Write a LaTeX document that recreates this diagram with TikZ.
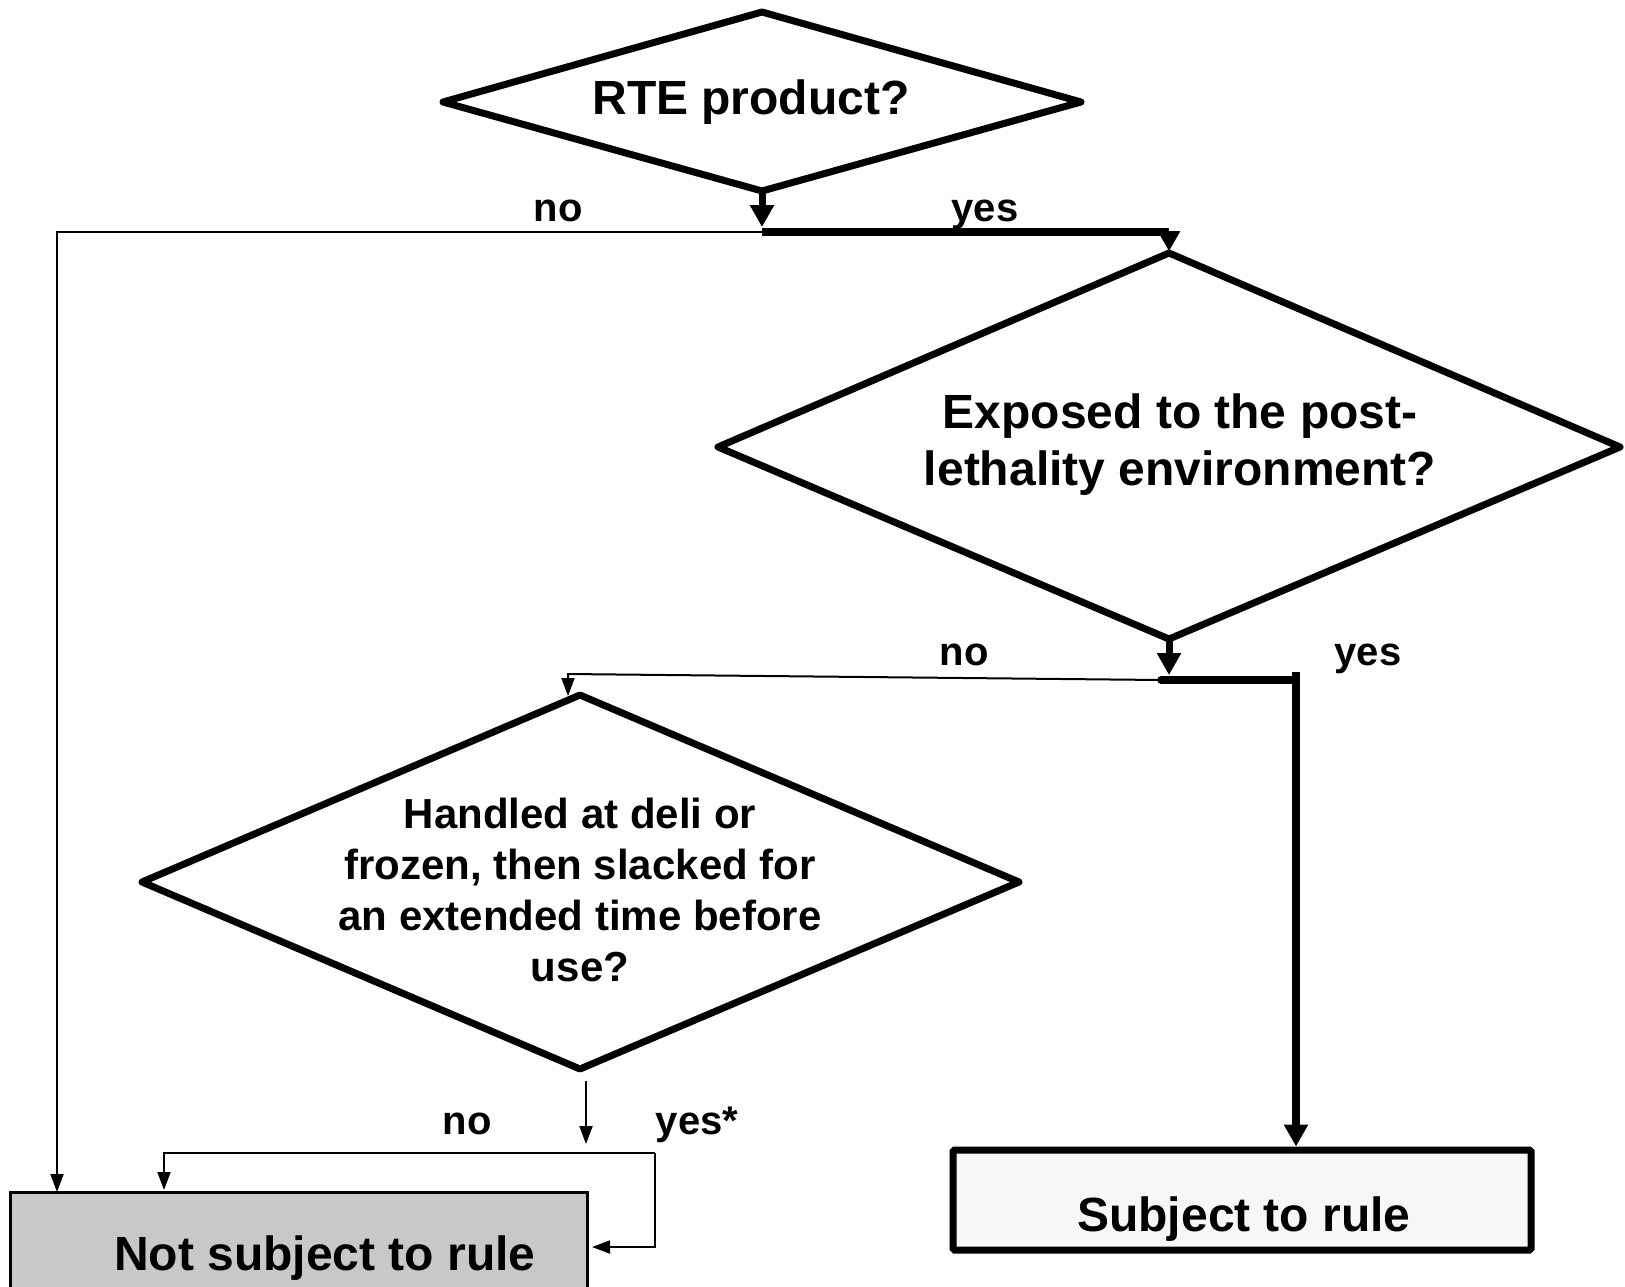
\documentclass[tikz,border=0pt]{standalone}
\usepackage{fontspec}
\setmainfont{Liberation Sans}
\usetikzlibrary{arrows.meta}
\begin{document}
\begin{tikzpicture}[x=1pt,y=-1pt,
  dia/.style={line width=7pt, line join=round},
  thk/.style={line width=7.5pt},
  thn/.style={line width=2pt},
  bigtip/.style={-{Triangle[length=22pt,width=23pt]}},
  smalltip/.style={-{Triangle[length=18pt,width=13pt]}},
  big/.style={font=\bfseries\fontsize{48}{57}\selectfont, inner sep=0pt, align=center},
  mid/.style={font=\bfseries\fontsize{42}{51}\selectfont, inner sep=0pt, align=center},
  lbl/.style={font=\bfseries\fontsize{40}{48}\selectfont, inner sep=0pt, anchor=base},
  graybox/.style={draw, line width=3pt, fill={rgb,255:red,200;green,200;blue,200}, minimum width=577pt, minimum height=108pt, inner sep=0pt},
  whitebox/.style={draw, line width=7pt, rounded corners=1.5pt, fill={rgb,255:red,247;green,247;blue,247}, minimum width=578pt, minimum height=100pt, inner sep=0pt}
]
\clip (0,0) rectangle (1625,1286);
\fill[white] (0,0) rectangle (1625,1286);

% diamond 1
\coordinate (d1t) at (762,12);
\coordinate (d1r) at (1081,102);
\coordinate (d1b) at (762,191);
\coordinate (d1l) at (443,102);
\draw[dia] (d1t) -- (d1r) -- (d1b) -- (d1l) -- cycle;
\node[big, anchor=base] (q1) at (751,114) {RTE product?};

% diamond 2
\coordinate (d2t) at (1169,253);
\coordinate (d2r) at (1620,447);
\coordinate (d2b) at (1169,639);
\coordinate (d2l) at (718,447);
\draw[dia] (d2t) -- (d2r) -- (d2b) -- (d2l) -- cycle;
\node[big] (q2) at (1180,445) {Exposed to the post-\\lethality environment?};

% diamond 3
\coordinate (d3t) at (580,695);
\coordinate (d3r) at (1019,882);
\coordinate (d3b) at (580,1069);
\coordinate (d3l) at (142,882);
\draw[dia] (d3t) -- (d3r) -- (d3b) -- (d3l) -- cycle;
\node[mid] (q3) at (580,890) {Handled at deli or\\frozen, then slacked for\\an extended time before\\use?};

% boxes
\node[graybox] (nsub) at (298.5,1246) {};
\node[big, anchor=base] (nsubt) at (325,1270) {Not subject to rule};
\node[whitebox] (sub) at (1242,1200) {};
\node[big, anchor=base] (subt) at (1244,1231) {Subject to rule};

% junction 1
\coordinate (j1) at (762,232);
\coordinate (j1a) at (762,227);
\coordinate (c1) at (1169,232);
\coordinate (l1) at (57,232);
\coordinate (l1b) at (57,1192);
\draw[line width=7pt, bigtip] (d1b) -- (j1a);
\draw[thn, smalltip] (j1) -- (l1) -- (l1b);
\draw[thk] (j1) -- (c1);
\draw[line width=3pt, -{Triangle[length=20pt,width=22pt]}] (c1) -- ([yshift=2pt]d2t);
\node[lbl] (no1) at (558,221) {no};
\node[lbl] (yes1) at (985,221) {yes};

% junction 2
\coordinate (j2) at (1161,680);
\coordinate (j2a) at (1169,675);
\coordinate (c2) at (1296,680);
\coordinate (c2t) at (1296,672);
\coordinate (n2) at (568,674);
\coordinate (n2b) at (568,696);
\draw[line width=7pt, bigtip] (d2b) -- (j2a);
\draw[thk, line cap=round] (j2) -- (c2);
\draw[line width=8pt, bigtip] (c2t) -- (c2t |- sub.north);
\draw[thn, smalltip] (j2) -- (n2) -- (n2b);
\node[lbl] (no2) at (964,665) {no};
\node[lbl] (yes2) at (1368,665) {yes};

% junction 3
\coordinate (d3s) at (586,1081);
\coordinate (d3e) at (586,1144);
\draw[thn, smalltip] (d3s) -- (d3e);
\coordinate (b1) at (655,1153);
\coordinate (b2) at (164,1153);
\coordinate (b3) at (164,1190);
\coordinate (b4) at (655,1247);
\coordinate (b5) at (592,1247);
\draw[thn, smalltip] (b1) -- (b2) -- (b3);
\draw[thn, smalltip] (b1) -- (b4) -- (b5);
\node[lbl] (no3) at (467,1134) {no};
\node[lbl] (yes3) at (697,1134) {yes*};
\end{tikzpicture}
\end{document}
